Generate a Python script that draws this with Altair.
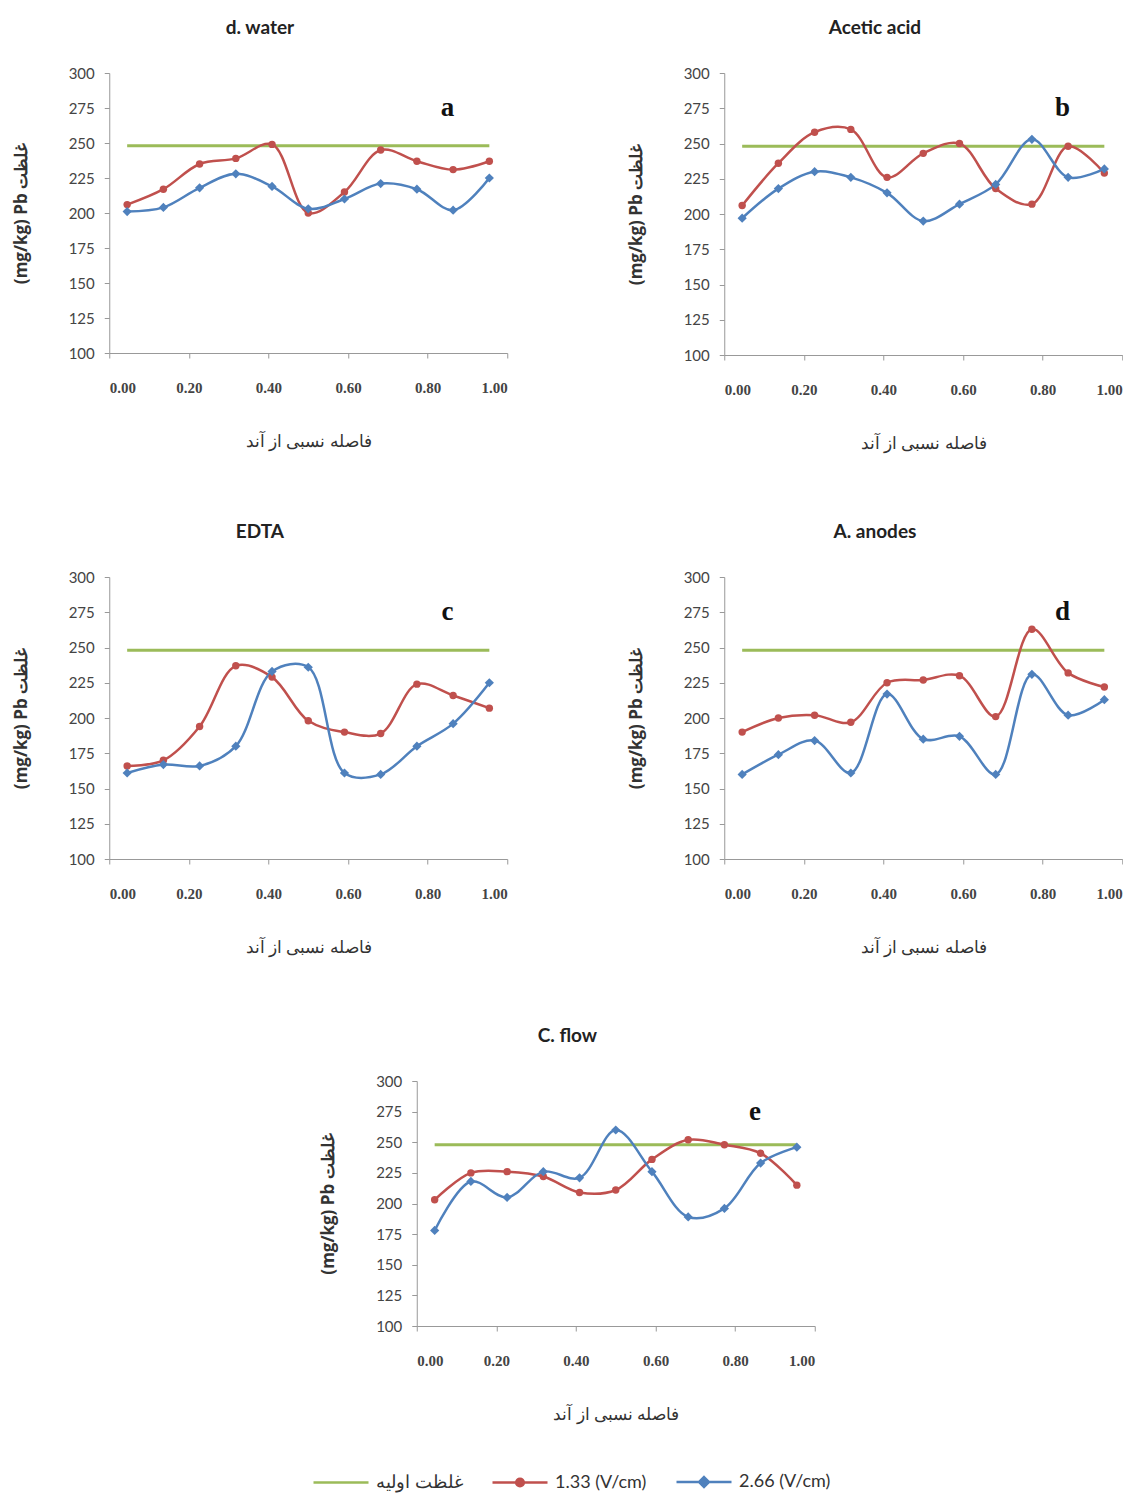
import altair as alt
import pandas as pd

X_POS = [0.045, 0.136, 0.227, 0.318, 0.409, 0.500, 0.591, 0.682, 0.773, 0.864, 0.955]

PANEL_TITLES = ["d. water", "Acetic acid", "EDTA", "A. anodes", "C. flow"]
PANEL_LETTERS = ["a", "b", "c", "d", "e"]

V133 = [
    [206, 217, 235, 239, 249, 200, 215, 245, 237, 231, 237],
    [206, 236, 258, 260, 226, 243, 250, 218, 207, 248, 229],
    [166, 170, 194, 237, 229, 198, 190, 189, 224, 216, 207],
    [190, 200, 202, 197, 225, 227, 230, 201, 263, 232, 222],
    [203, 225, 226, 222, 209, 211, 236, 252, 248, 241, 215],
]
V266 = [
    [201, 204, 218, 228, 219, 203, 210, 221, 217, 202, 225],
    [197, 218, 230, 226, 215, 195, 207, 221, 253, 226, 232],
    [161, 167, 166, 180, 233, 236, 161, 160, 180, 196, 225],
    [160, 174, 184, 161, 217, 185, 187, 160, 231, 202, 213],
    [178, 218, 205, 226, 221, 260, 226, 189, 196, 233, 246],
]
INITIAL = [248, 248, 248, 248, 248]

SERIES = ["غلظت اولیه", "1.33 (V/cm)", "2.66 (V/cm)"]
COLORS = ["#9BBB59", "#C0504D", "#4F81BD"]
X_TICKS = [0.0, 0.2, 0.4, 0.6, 0.8, 1.0]
Y_TICKS = [100, 125, 150, 175, 200, 225, 250, 275, 300]
X_TITLE = "فاصله نسبی از آند"
Y_TITLE = "(mg/kg) Pb غلظت"

LEGEND_SHAPES = [
    "M-1,0L1,0",
    "M-1,0L1,0M-0.14,0A0.14,0.14,0,1,1,0.14,0A0.14,0.14,0,1,1,-0.14,0Z",
    "M-1,0L1,0M0,-0.18L0.18,0L0,0.18L-0.18,0Z",
]

cscale = alt.Scale(domain=SERIES, range=COLORS)
xscale = alt.Scale(domain=[0, 1], nice=False)
yscale = alt.Scale(domain=[100, 300], nice=False)

x_axis = alt.Axis(values=X_TICKS, format=".2f", title=X_TITLE, grid=False,
                  tickSize=5, labelPadding=22, titlePadding=38,
                  labelFont="Liberation Serif", labelFontWeight="bold",
                  labelFontSize=15, labelColor="#444",
                  titleFont="Noto Sans", titleFontSize=17,
                  titleFontWeight="normal", titleColor="#333",
                  domainColor="#999", tickColor="#999")
y_axis = alt.Axis(values=Y_TICKS, title=Y_TITLE, grid=False,
                  tickSize=5, labelPadding=10, titlePadding=38,
                  labelOverlap=False,
                  labelFont="Lato", labelFontSize=15, labelColor="#444",
                  titleFont="Open Sans", titleFontSize=17,
                  titleFontWeight="bold", titleColor="#333",
                  domainColor="#999", tickColor="#999")


def make_panel(i, h, with_legend=False):
    df = pd.DataFrame({
        "x": X_POS + X_POS,
        "y": V133[i] + V266[i],
        "s": [SERIES[1]] * len(X_POS) + [SERIES[2]] * len(X_POS),
    })
    init = pd.DataFrame({"x": [X_POS[0], X_POS[-1]], "y": [INITIAL[i]] * 2, "s": [SERIES[0]] * 2})

    xenc = alt.X("x:Q", scale=xscale, axis=x_axis)
    yenc = alt.Y("y:Q", scale=yscale, axis=y_axis)
    color = alt.Color("s:N", scale=cscale, legend=None)

    green = alt.Chart(init).mark_line(strokeWidth=3).encode(x=xenc, y=yenc, color=color)
    lines = alt.Chart(df).mark_line(interpolate="catmull-rom", strokeWidth=2.5).encode(
        x=xenc, y=yenc, color=color)
    red_pts = alt.Chart(df).transform_filter(alt.datum.s == SERIES[1]).mark_point(
        shape="circle", filled=True, size=55, opacity=1).encode(x=xenc, y=yenc, color=color)
    blue_pts = alt.Chart(df).transform_filter(alt.datum.s == SERIES[2]).mark_point(
        shape="diamond", filled=True, size=85, opacity=1).encode(x=xenc, y=yenc, color=color)
    letter = alt.Chart(pd.DataFrame({"t": [PANEL_LETTERS[i]]})).mark_text(
        font="Liberation Serif", fontWeight="bold", fontSize=27, color="#111").encode(
        x=alt.X(datum=0.85, type="quantitative", scale=xscale, axis=x_axis),
        y=alt.Y(datum=275, type="quantitative", scale=yscale, axis=y_axis),
        text="t:N")

    layers = [green, lines, red_pts, blue_pts, letter]
    if with_legend:
        leg = alt.Legend(title=None, orient="none", legendX=203, legendY=1380,
                         direction="horizontal",
                         symbolSize=3025, symbolStrokeWidth=2.5, labelFont="Lato",
                         labelFontSize=18, labelColor="#333", columnPadding=24,
                         labelOffset=6)
        leg_df = pd.DataFrame({"x": [X_POS[0]] * 3, "y": [INITIAL[i]] * 3, "s": SERIES})
        legend_layer = alt.Chart(leg_df).transform_filter("false").mark_point(
            filled=True, strokeWidth=2.5, opacity=1).encode(
            x=xenc, y=yenc,
            fill=alt.Fill("s:N", scale=cscale, legend=leg),
            stroke=alt.Stroke("s:N", scale=cscale, legend=leg),
            shape=alt.Shape("s:N", scale=alt.Scale(domain=SERIES, range=LEGEND_SHAPES), legend=leg),
        )
        layers.append(legend_layer)

    return alt.layer(*layers).properties(
        width=398, height=h,
        title=alt.Title(PANEL_TITLES[i], font="Lato", fontSize=19, fontWeight="bold",
                        color="#222", anchor="middle", frame="bounds", offset=28),
    )


row1 = alt.hconcat(make_panel(0, 280), make_panel(1, 282), spacing=118)
row2 = alt.hconcat(make_panel(2, 282), make_panel(3, 282), spacing=118)
row3 = make_panel(4, 245, with_legend=True)

chart = alt.vconcat(row1, row2, row3, spacing=72, center=True).resolve_scale(
    color="independent").properties(
    padding={"left": 12, "top": 19, "right": 0, "bottom": 5},
    background="white",
).configure_view(stroke=None)

chart.save("out.html", embed_options={"renderer": "svg", "actions": False})
